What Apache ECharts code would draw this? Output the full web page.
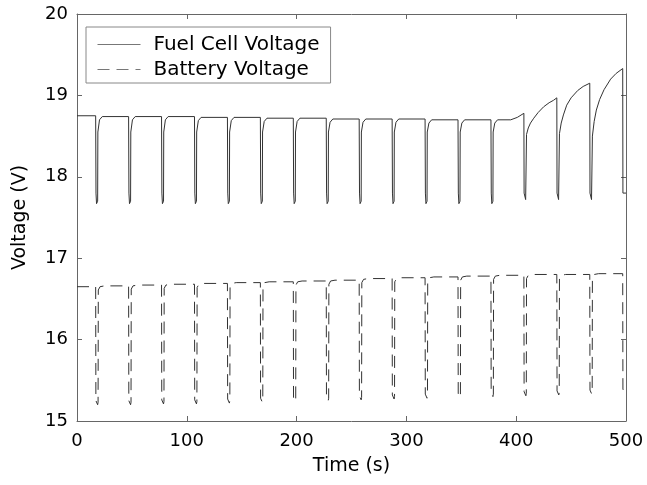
<!DOCTYPE html>
<html>
<head>
<meta charset="utf-8">
<script src="https://cdn.jsdelivr.net/npm/echarts@6/dist/echarts.min.js"></script>
<style>html,body{margin:0;padding:0;background:#fff}#c{width:647px;height:485px}</style>
</head>
<body>
<div id="c"></div>
<script>
// ---- data ----
const seriesNames = ['Fuel Cell Voltage', 'Battery Voltage'];
const xTicks = [0, 100, 200, 300, 400, 500];
const yTicks = [15, 16, 17, 18, 19, 20];

const fcTime = [
  0,
  17, 17.3, 17.8, 18.8, 19, 20.5, 23,
  47, 47.3, 47.8, 48.8, 49, 50.5, 53,
  77, 77.3, 77.8, 78.8, 79, 80.5, 83,
  107, 107.3, 107.8, 108.8, 109, 110.5, 113,
  137, 137.3, 137.8, 138.8, 139, 140.5, 143,
  167, 167.3, 167.8, 168.8, 169, 170.5, 173,
  197, 197.3, 197.8, 198.8, 199, 200.5, 203,
  227, 227.3, 227.8, 228.8, 229, 230.5, 233,
  257, 257.3, 257.8, 258.8, 259, 260.5, 263,
  287, 287.3, 287.8, 288.8, 289, 290.5, 293,
  317, 317.3, 317.8, 318.8, 319, 320.5, 323,
  347, 347.3, 347.8, 348.8, 349, 350.5, 353,
  377, 377.3, 377.8, 378.8, 379, 380.5, 383, 395, 401,
  407, 407.2, 408.4, 408.6, 409.2, 409.4, 411, 413, 416, 420, 425, 430, 434,
  437, 437.2, 438.4, 438.6, 439.2, 439.4, 441, 443, 446, 450, 456, 461,
  467, 467.2, 468.4, 468.6, 469.2, 469.4, 471, 473, 476, 480, 486, 491,
  497, 497.2, 500
];
const fcVolt = [
  18.75,
  18.75, 17.80, 17.67, 17.70, 18.55, 18.70, 18.74,
  18.74, 17.80, 17.67, 17.70, 18.55, 18.70, 18.74,
  18.74, 17.80, 17.67, 17.70, 18.55, 18.70, 18.74,
  18.74, 17.80, 17.67, 17.70, 18.55, 18.69, 18.73,
  18.73, 17.80, 17.67, 17.70, 18.55, 18.69, 18.73,
  18.73, 17.80, 17.67, 17.70, 18.55, 18.68, 18.72,
  18.72, 17.80, 17.67, 17.70, 18.55, 18.68, 18.72,
  18.72, 17.80, 17.67, 17.70, 18.55, 18.67, 18.71,
  18.71, 17.80, 17.67, 17.70, 18.55, 18.67, 18.71,
  18.71, 17.80, 17.67, 17.70, 18.55, 18.67, 18.71,
  18.71, 17.80, 17.67, 17.70, 18.55, 18.66, 18.70,
  18.70, 17.80, 17.67, 17.70, 18.55, 18.66, 18.70,
  18.70, 17.80, 17.67, 17.70, 18.55, 18.66, 18.70, 18.70, 18.73,
  18.78, 17.80, 17.79, 17.72, 17.74, 18.52, 18.60, 18.66, 18.72, 18.79, 18.86, 18.91, 18.94,
  18.97, 17.80, 17.79, 17.72, 17.74, 18.53, 18.66, 18.76, 18.88, 18.97, 19.06, 19.11,
  19.15, 17.80, 17.79, 17.72, 17.74, 18.50, 18.68, 18.82, 18.95, 19.07, 19.20, 19.27,
  19.33, 17.80, 17.80
];

const batTime = [
  0,
  17, 17.2, 18.8, 19.2, 19.4, 21, 25,
  47, 47.2, 48.8, 49.2, 49.4, 51, 55,
  77, 77.2, 78.8, 79.2, 79.4, 81, 85,
  107, 107.2, 108.8, 109.2, 109.4, 111, 115,
  137, 137.2, 138.8, 139.2, 139.4, 141, 145,
  167, 167.2, 168.8, 169.2, 169.4, 171, 175,
  197, 197.2, 198.8, 199.2, 199.4, 201, 205,
  227, 227.2, 228.8, 229.2, 229.4, 231, 235,
  257, 257.2, 258.8, 259.2, 259.4, 261, 265,
  287, 287.2, 288.8, 289.2, 289.4, 291, 295,
  317, 317.2, 318.8, 319.2, 319.4, 321, 325,
  347, 347.2, 348.8, 349.2, 349.4, 351, 355,
  377, 377.2, 378.8, 379.2, 379.4, 381, 385,
  407, 407.2, 408.8, 409.2, 409.4, 411, 415,
  437, 437.2, 438.8, 439.2, 439.4, 441, 445,
  467, 467.2, 468.8, 469.2, 469.4, 471, 475,
  497, 497.2, 500
];
const batVolt = [
  16.65,
  16.65, 15.25, 15.20, 15.23, 16.61, 16.65, 16.66,
  16.66, 15.25, 15.20, 15.23, 16.62, 16.66, 16.67,
  16.67, 15.26, 15.21, 15.24, 16.63, 16.67, 16.68,
  16.68, 15.26, 15.21, 15.24, 16.64, 16.68, 16.69,
  16.69, 15.27, 15.22, 15.25, 16.65, 16.69, 16.70,
  16.70, 15.28, 15.23, 15.26, 16.66, 16.70, 16.71,
  16.71, 15.29, 15.24, 15.27, 16.67, 16.71, 16.72,
  16.72, 15.30, 15.25, 15.28, 16.68, 16.72, 16.73,
  16.73, 15.31, 15.26, 15.29, 16.70, 16.74, 16.75,
  16.75, 15.32, 15.27, 15.30, 16.71, 16.75, 16.76,
  16.76, 15.33, 15.28, 15.31, 16.72, 16.76, 16.77,
  16.77, 15.34, 15.29, 15.32, 16.73, 16.77, 16.78,
  16.78, 15.35, 15.30, 15.33, 16.74, 16.78, 16.79,
  16.79, 15.36, 15.31, 15.34, 16.75, 16.79, 16.80,
  16.80, 15.37, 15.32, 15.35, 16.75, 16.79, 16.80,
  16.80, 15.38, 15.33, 15.36, 16.76, 16.80, 16.81,
  16.81, 15.39, 15.34
];

// ---- chart ----
function pairs(t, v) {
  const n = Math.min(t.length, v.length);
  const out = [];
  for (let i = 0; i < n; i++) out.push([t[i], v[i]]);
  return out;
}
const FONT = '"DejaVu Sans", Arial, sans-serif';
const axisColor = '#666';
const lineColor = '#333';

function xAxisCfg(pos, showLabels) {
  return {
    type: 'value', position: pos,
    min: xTicks[0], max: xTicks[xTicks.length - 1], interval: xTicks[1] - xTicks[0],
    axisLine: { show: true, onZero: false, lineStyle: { color: axisColor, width: 1 } },
    axisTick: { show: true, inside: true, length: 5, lineStyle: { color: axisColor } },
    axisLabel: { show: showLabels, color: '#000', fontSize: 18, fontFamily: FONT, margin: 11 },
    splitLine: { show: false },
    name: showLabels ? 'Time (s)' : '',
    nameLocation: 'middle', nameGap: 36,
    nameTextStyle: { color: '#000', fontSize: 19, fontFamily: FONT }
  };
}
function yAxisCfg(pos, showLabels) {
  return {
    type: 'value', position: pos,
    min: yTicks[0], max: yTicks[yTicks.length - 1], interval: yTicks[1] - yTicks[0],
    axisLine: { show: true, onZero: false, lineStyle: { color: axisColor, width: 1 } },
    axisTick: { show: true, inside: true, length: 5, lineStyle: { color: axisColor } },
    axisLabel: { show: showLabels, color: '#000', fontSize: 18, fontFamily: FONT, margin: 9 },
    splitLine: { show: false },
    name: showLabels ? 'Voltage (V)' : '',
    nameLocation: 'middle', nameGap: 47,
    nameTextStyle: { color: '#000', fontSize: 19, fontFamily: FONT }
  };
}

const chart = echarts.init(document.getElementById('c'), null, { renderer: 'canvas' });
chart.setOption({
  animation: false,
  backgroundColor: '#fff',
  grid: { left: 77, right: 21, top: 14, bottom: 64, containLabel: false },
  xAxis: [xAxisCfg('bottom', true), xAxisCfg('top', false)],
  yAxis: [yAxisCfg('left', true), yAxisCfg('right', false)],
  legend: {
    orient: 'vertical', left: 86, top: 27,
    padding: [7, 11, 3, 11], itemGap: 4,
    itemWidth: 43, itemHeight: 14,
    backgroundColor: '#fff', borderColor: '#888', borderWidth: 1, borderRadius: 0,
    itemStyle: { opacity: 0 },
    lineStyle: { width: 1, color: '#777' },
    textStyle: { color: '#000', fontSize: 20, fontFamily: FONT, lineHeight: 21, padding: [0, 0, 0, 8] },
    data: seriesNames
  },
  series: [
    {
      name: seriesNames[0], type: 'line', symbol: 'none', showSymbol: false,
      lineStyle: { color: lineColor, width: 1 }, itemStyle: { color: lineColor },
      data: pairs(fcTime, fcVolt)
    },
    {
      name: seriesNames[1], type: 'line', symbol: 'none', showSymbol: false,
      lineStyle: { color: lineColor, width: 1, type: [12, 7] }, itemStyle: { color: lineColor },
      data: pairs(batTime, batVolt)
    }
  ]
});
</script>
</body>
</html>
